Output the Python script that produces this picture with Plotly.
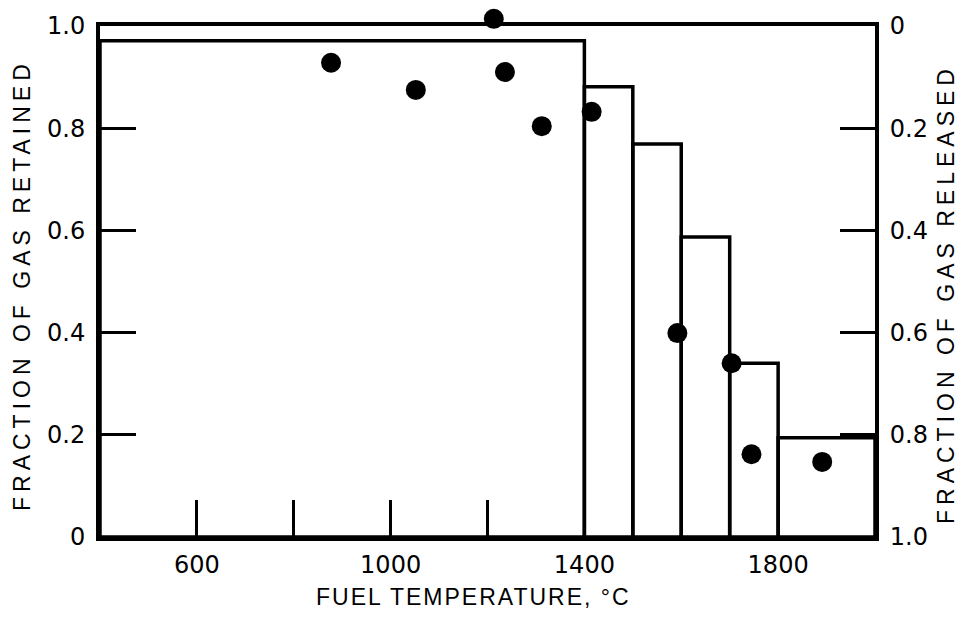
import plotly.graph_objects as go

# Step bars: temperature intervals and fraction retained
bar_left = [400, 1400, 1500, 1600, 1700, 1800]
bar_right = [1400, 1500, 1600, 1700, 1800, 2000]
bar_retained = [0.971, 0.881, 0.769, 0.587, 0.340, 0.194]

# Measured points
pt_temp = [877, 1052, 1213, 1236, 1312, 1415, 1592, 1704, 1745, 1891]
pt_retained = [0.928, 0.875, 1.014, 0.910, 0.804, 0.832, 0.399, 0.340, 0.162, 0.147]

x_tickvals = [600, 800, 1000, 1200, 1400, 1600, 1800]
x_ticktext = ["600", "", "1000", "", "1400", "", "1800"]
y_tickvals = [0, 0.2, 0.4, 0.6, 0.8, 1.0]
y_ticktext = ["0", "0.2", "0.4", "0.6", "0.8", "1.0"]
y2_ticktext = ["0", "0.2", "0.4", "0.6", "0.8", "1.0"]

FONT = "Liberation Sans, Arial, sans-serif"
TICKFONT = "DejaVu Sans, sans-serif"

W, H = 966, 624
L, R, B = 100, 91, 87
TOP_FRAME = 26      # pixel row of the 1.0 line
T = 6               # small top margin so points above 1.0 can show
plot_h = H - T - B
main_h = H - TOP_FRAME - B
dom_top = main_h / plot_h

centers = [(a + b) / 2 for a, b in zip(bar_left, bar_right)]
widths = [b - a for a, b in zip(bar_left, bar_right)]

fig = go.Figure()
fig.add_trace(go.Bar(
    x=centers, y=bar_retained, width=widths,
    marker=dict(color="rgba(0,0,0,0)", line=dict(color="black", width=3.5)),
    showlegend=False, hoverinfo="skip",
))
fig.add_trace(go.Scatter(
    x=pt_temp, y=pt_retained, mode="markers", yaxis="y3",
    marker=dict(color="black", size=20),
    showlegend=False, cliponaxis=False,
))
# invisible trace to activate right axis
fig.add_trace(go.Scatter(x=[400], y=[0], yaxis="y2", mode="markers",
                         marker=dict(opacity=0), showlegend=False, hoverinfo="skip"))

axis_common = dict(showgrid=False, zeroline=False, showline=True, linecolor="black",
                   linewidth=4, ticks="inside", tickcolor="black", tickwidth=3,
                   automargin=False,
                   tickfont=dict(family=TICKFONT, size=24, color="black"))

fig.update_layout(
    width=W, height=H,
    margin=dict(l=L, r=R, t=T, b=B, autoexpand=False),
    plot_bgcolor="rgba(0,0,0,0)", paper_bgcolor="white",
    barmode="overlay",
    xaxis=dict(range=[400, 2000], tickvals=x_tickvals, ticktext=x_ticktext,
               ticklen=37, mirror=True, ticklabelstandoff=3, **axis_common),
    yaxis=dict(range=[0, 1.0], domain=[0, dom_top], tickvals=y_tickvals, ticktext=y_ticktext,
               ticklen=36, ticklabelstandoff=6, **axis_common),
    yaxis2=dict(range=[1.0, 0], overlaying="y", side="right",
                tickvals=y_tickvals, ticktext=y2_ticktext,
                ticklen=35, ticklabelstandoff=6, **axis_common),
    yaxis3=dict(range=[0, 1.0 / dom_top], domain=[0, 1], anchor="x", visible=False,
                showgrid=False, zeroline=False, automargin=False),
    annotations=[
        dict(text='<span style="letter-spacing:2px">FUEL TEMPERATURE, °C</span>',
             xref="paper", yref="paper", x=(473 - L) / (W - L - R), y=-(597 - (H - B)) / plot_h,
             xanchor="center", yanchor="middle", showarrow=False,
             font=dict(family=FONT, size=23, color="black")),
        dict(text='<span style="letter-spacing:5px">FRACTION OF GAS RETAINED</span>',
             xref="paper", yref="paper", x=-(L - 22) / (W - L - R), y=((H - B) - 285) / plot_h,
             xanchor="center", yanchor="middle", showarrow=False, textangle=-90,
             font=dict(family=FONT, size=23, color="black")),
        dict(text='<span style="letter-spacing:5px">FRACTION OF GAS RELEASED</span>',
             xref="paper", yref="paper", x=1 + (946 - (W - R)) / (W - L - R), y=((H - B) - 294) / plot_h,
             xanchor="center", yanchor="middle", showarrow=False, textangle=-90,
             font=dict(family=FONT, size=23, color="black")),
    ],
)

fig.write_html("out.html")
